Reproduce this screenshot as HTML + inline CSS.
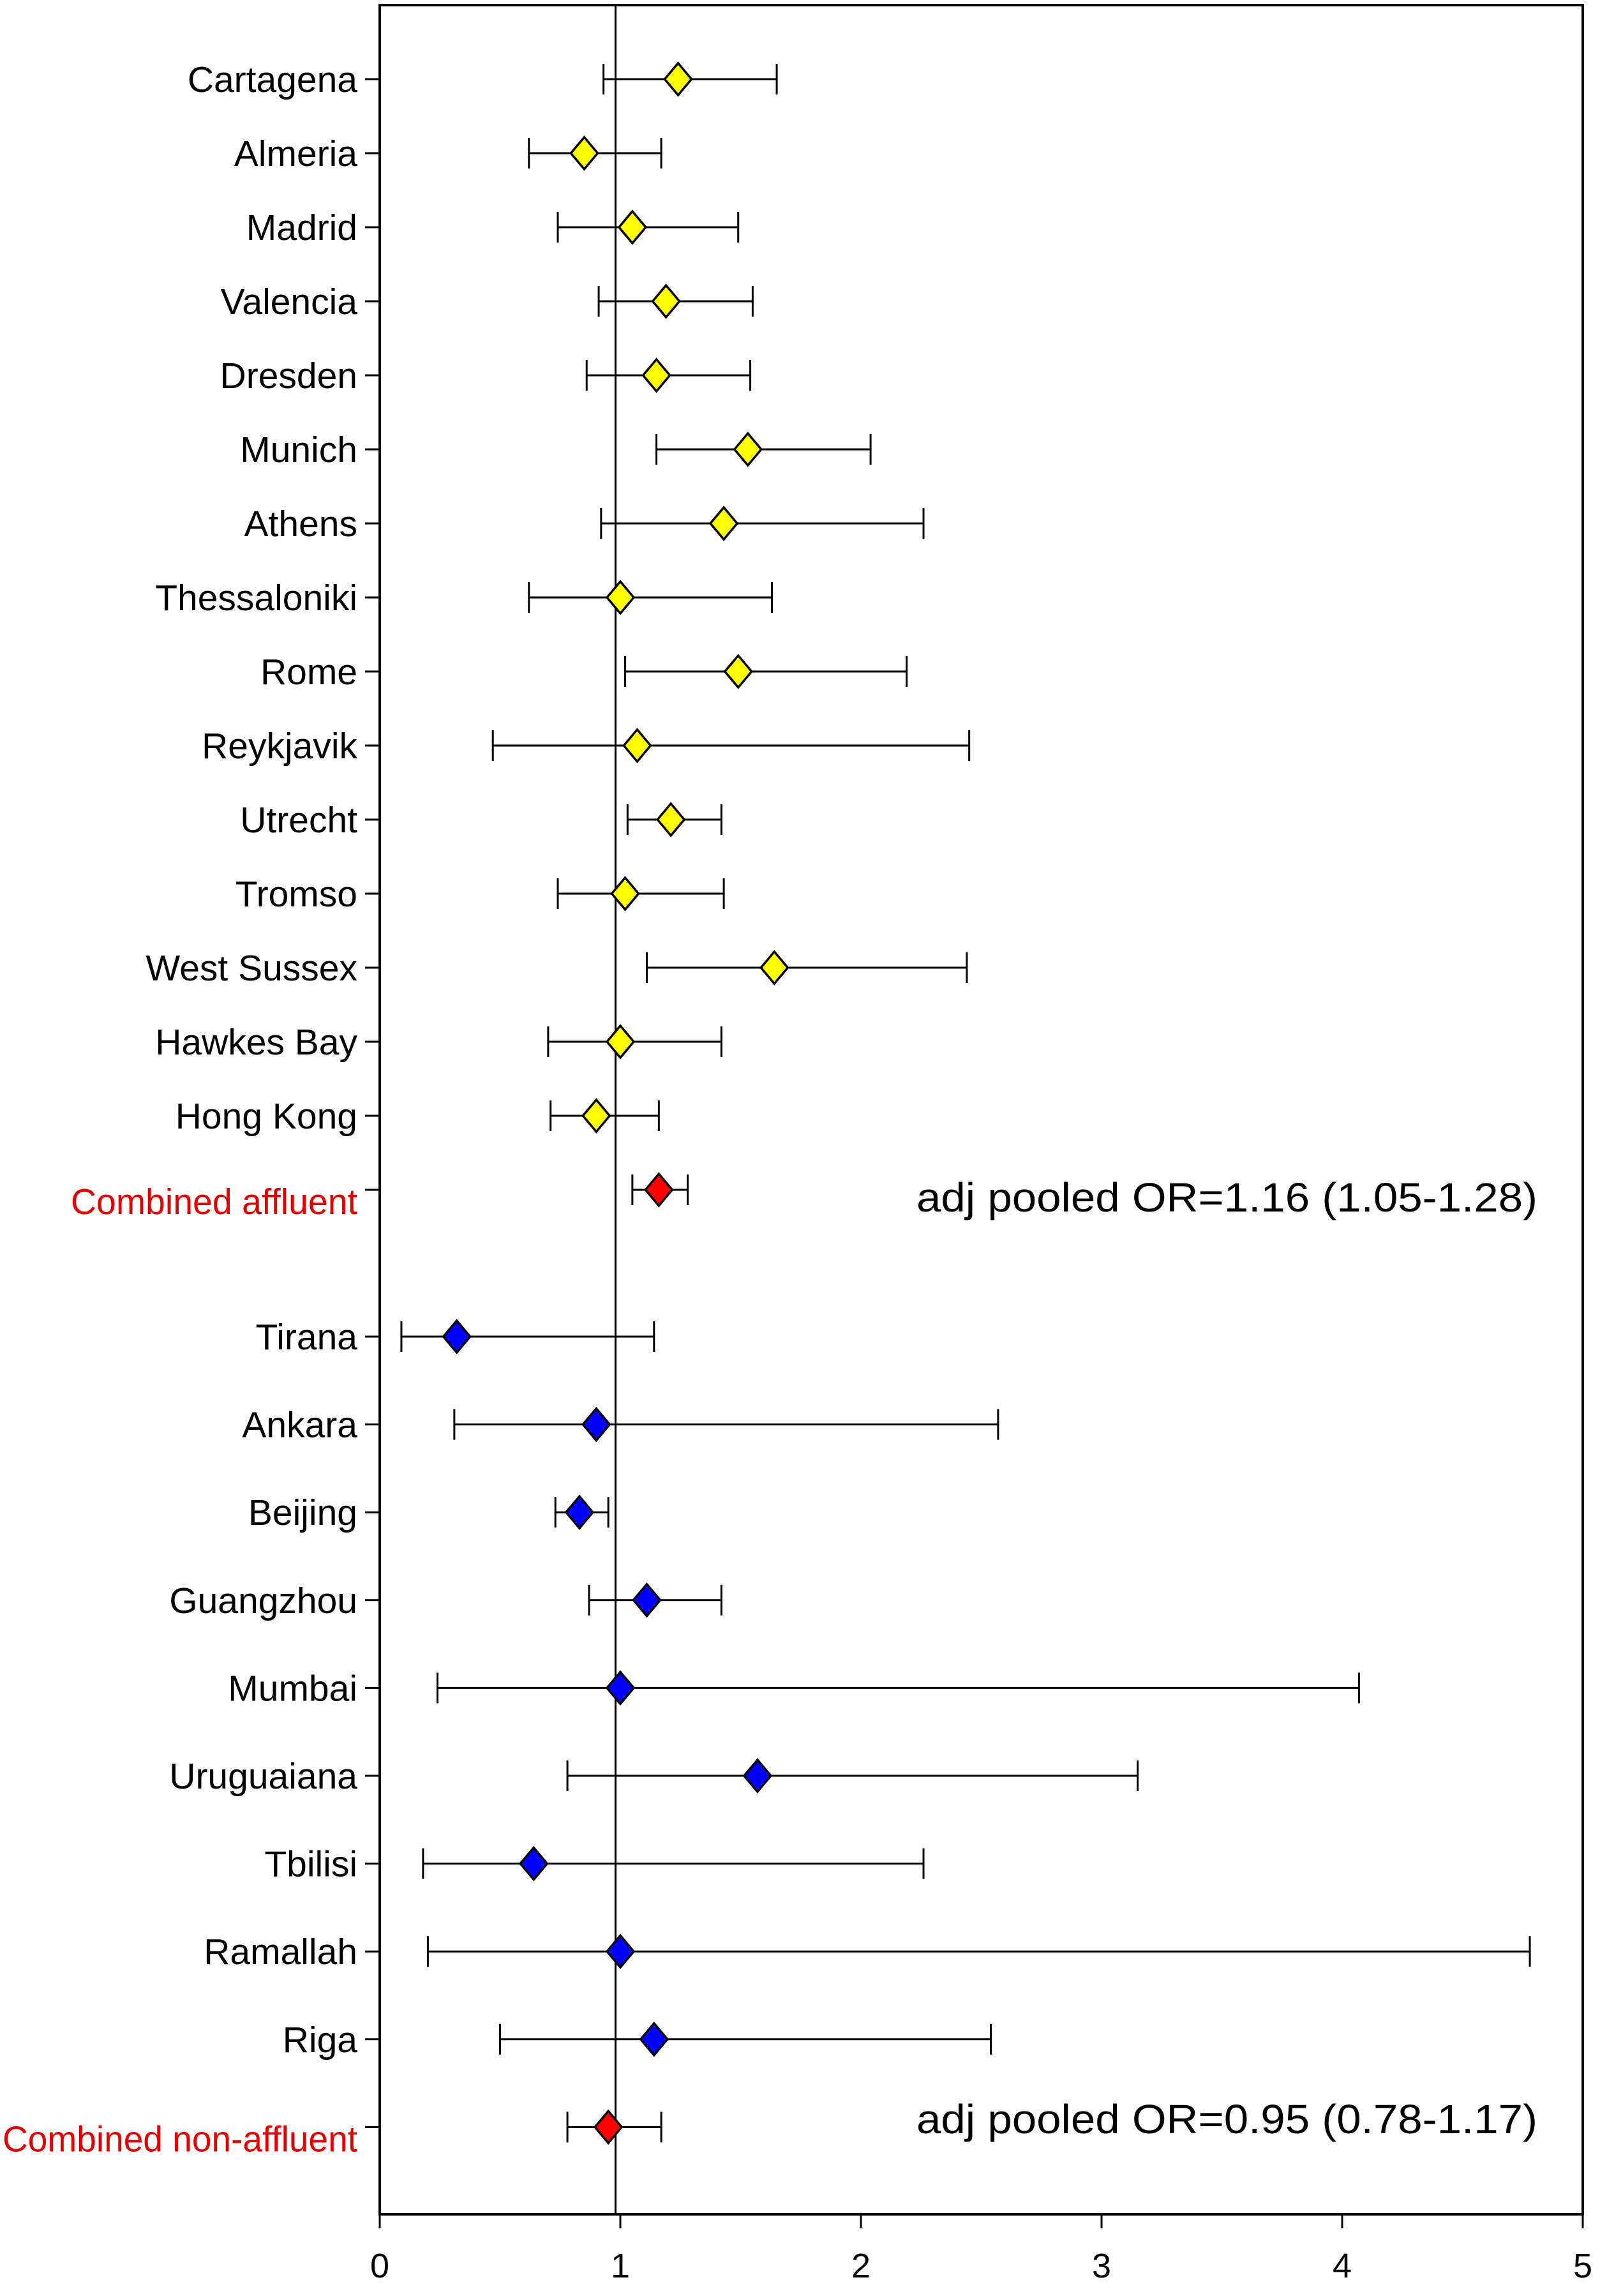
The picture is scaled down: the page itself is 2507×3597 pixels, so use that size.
<!DOCTYPE html>
<html><head><meta charset="utf-8"><style>
html,body{margin:0;padding:0;background:#fff;}
svg{display:block;}
text{font-family:"Liberation Sans",Arial,sans-serif;}
</style></head><body>
<svg id="chart" width="2507" height="3597" viewBox="0 0 2507 3597" xmlns="http://www.w3.org/2000/svg"></svg>
<script>
const labels = ["Cartagena","Almeria","Madrid","Valencia","Dresden","Munich","Athens","Thessaloniki","Rome","Reykjavik","Utrecht","Tromso","West Sussex","Hawkes Bay","Hong Kong","Combined affluent","Tirana","Ankara","Beijing","Guangzhou","Mumbai","Uruguaiana","Tbilisi","Ramallah","Riga","Combined non-affluent"];
const estimates = [1.24,0.85,1.05,1.19,1.15,1.53,1.43,1.00,1.49,1.07,1.21,1.02,1.64,1.00,0.90,1.16,0.32,0.90,0.83,1.11,1.00,1.57,0.64,1.00,1.14,0.95];
const lower = [0.93,0.62,0.74,0.91,0.86,1.15,0.92,0.62,1.02,0.47,1.03,0.74,1.11,0.70,0.71,1.05,0.09,0.31,0.73,0.87,0.24,0.78,0.18,0.20,0.50,0.78];
const upper = [1.65,1.17,1.49,1.55,1.54,2.04,2.26,1.63,2.19,2.45,1.42,1.43,2.44,1.42,1.16,1.28,1.14,2.57,0.95,1.42,4.07,3.15,2.26,4.78,2.54,1.17];
const groups = ["affluent","affluent","affluent","affluent","affluent","affluent","affluent","affluent","affluent","affluent","affluent","affluent","affluent","affluent","affluent","combined","non","non","non","non","non","non","non","non","non","combined"];
const xTicks = [0,1,2,3,4,5];
const refValue = 0.98;
const annotations = ["adj pooled OR=1.16 (1.05-1.28)","adj pooled OR=0.95 (0.78-1.17)"];

const svg = document.getElementById('chart');
const NS = "http://www.w3.org/2000/svg";
const L=595,R=2480,T=8,B=3469;
function xs(v){return L+(R-L)*v/5;}
function ys(i){return i<=15 ? 124+i*116 : 2094+(i-16)*137.6;}
function mk(tag,attrs,parent){const e=document.createElementNS(NS,tag);for(const k in attrs)e.setAttribute(k,attrs[k]);(parent||svg).appendChild(e);return e;}

const frame=mk('rect',{x:L,y:T,width:R-L,height:B-T,fill:'none',stroke:'#000','stroke-width':4});



const ref=mk('line',{x1:xs(refValue),x2:xs(refValue),y1:T,y2:B,stroke:'#000','stroke-width':3});



xTicks.forEach(t=>{
  const g=mk('g',{});
  
  
  mk('line',{x1:xs(t),x2:xs(t),y1:B,y2:B+22,stroke:'#000','stroke-width':3},g);
  const tx=mk('text',{x:xs(t),y:3568,'text-anchor':'middle','font-size':54},g);
  tx.textContent=t;
});

labels.forEach((lab,i)=>{
  const y=ys(i);
  const g=mk('g',{});
  
  
  const comb=groups[i]==='combined';
  mk('line',{x1:572,x2:L,y1:y,y2:y,stroke:'#000','stroke-width':3},g);
  const t=mk('text',{x:560,y:y+(comb?38:20),'text-anchor':'end','font-size':57,fill:comb?'#e00000':'#000'},g);
  if(comb){t.setAttribute('textLength', i===15?449:556);t.setAttribute('lengthAdjust','spacingAndGlyphs');}
  t.textContent=lab;
  const x1=xs(lower[i]),x2=xs(upper[i]),xe=xs(estimates[i]);
  mk('line',{x1:x1,x2:x2,y1:y,y2:y,stroke:'#000','stroke-width':3},g);
  mk('line',{x1:x1,x2:x1,y1:y-24,y2:y+24,stroke:'#000','stroke-width':3},g);
  mk('line',{x1:x2,x2:x2,y1:y-24,y2:y+24,stroke:'#000','stroke-width':3},g);
  const fill=comb?'#ff0000':(groups[i]==='affluent'?'#ffff00':'#0000ff');
  const d=mk('polygon',{points:`${xe-21},${y} ${xe},${y-25} ${xe+21},${y} ${xe},${y+25}`,fill:fill,stroke:'#000','stroke-width':3.5},g);
  
  
});

const a1=mk('text',{x:2409,y:1898,'text-anchor':'end','font-size':64,textLength:973,lengthAdjust:'spacingAndGlyphs'});
a1.textContent=annotations[0];


const a2=mk('text',{x:2409,y:3342,'text-anchor':'end','font-size':64,textLength:973,lengthAdjust:'spacingAndGlyphs'});
a2.textContent=annotations[1];


</script>
</body></html>
